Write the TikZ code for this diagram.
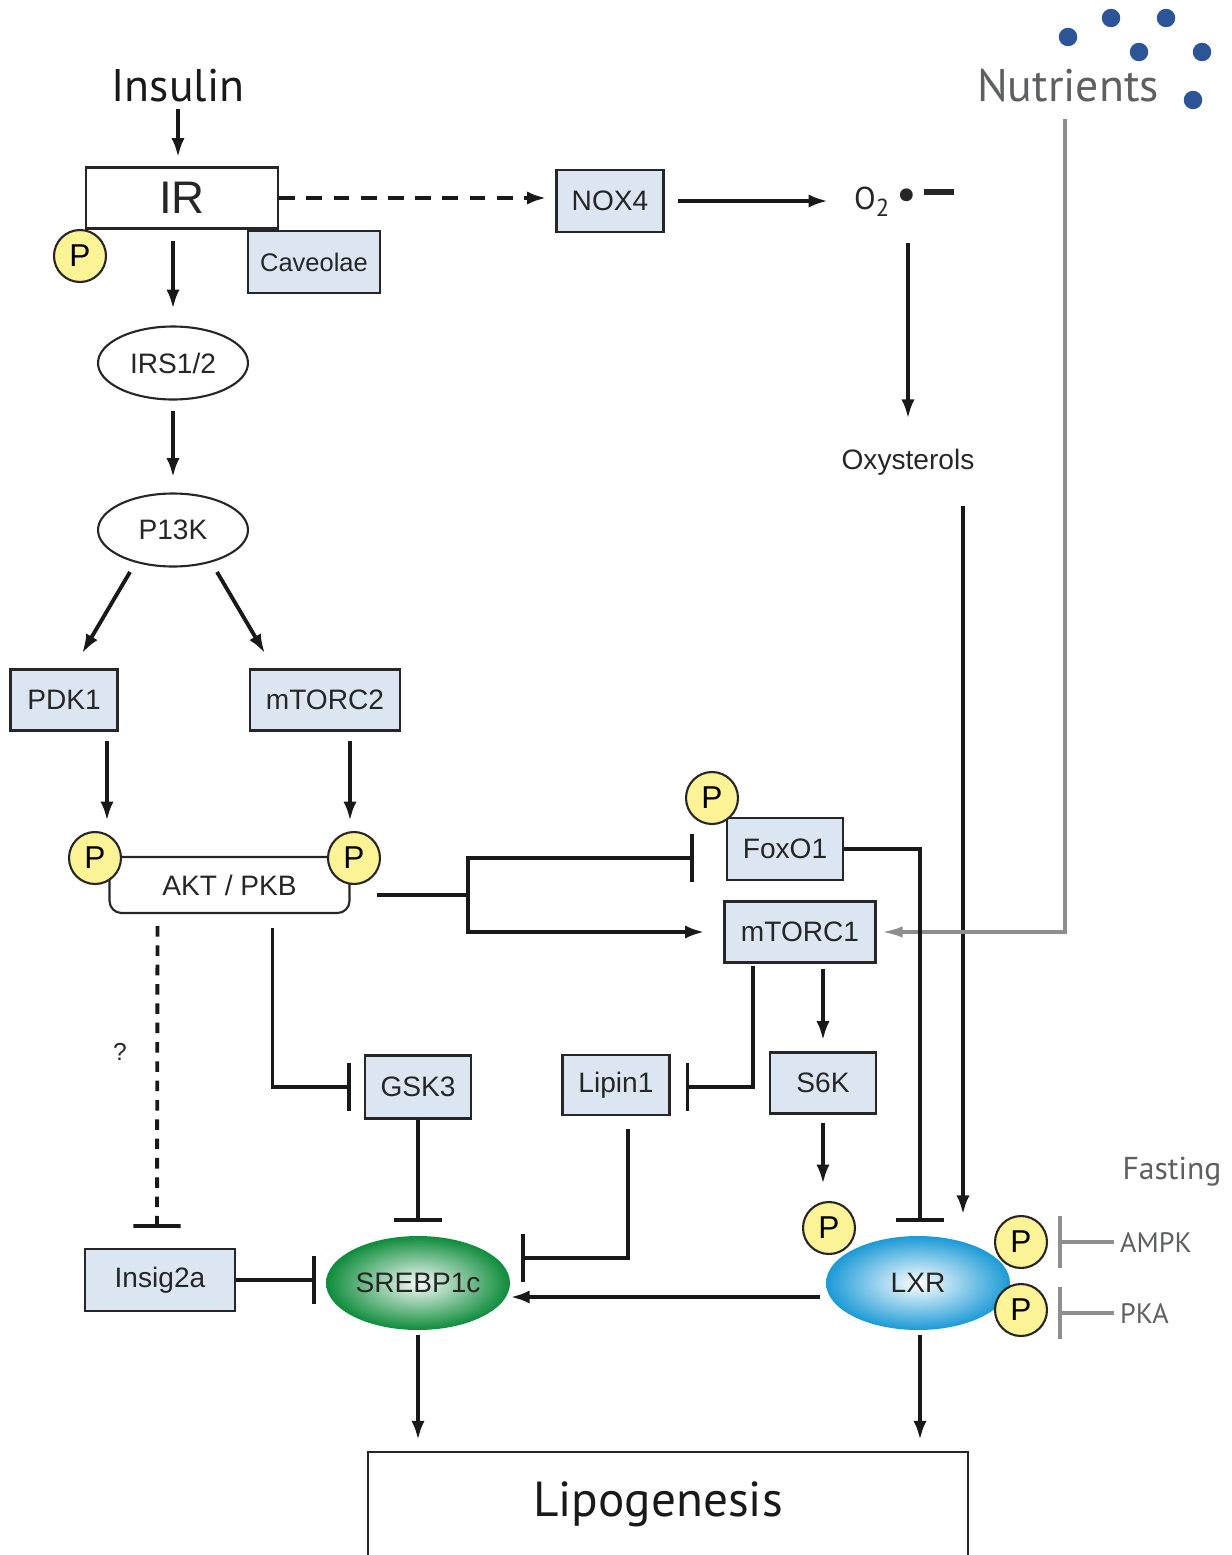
\documentclass[tikz,border=0pt]{standalone}
\usepackage{fontspec}
\setmainfont{Liberation Sans}
\newfontfamily\myriad{PT Sans}
\usepackage{tikz}
\usetikzlibrary{arrows.meta}
\usetikzlibrary{shapes.geometric}
\definecolor{boxblue}{HTML}{DCE6F2}
\definecolor{pyellow}{HTML}{FCF396}
\definecolor{dotblue}{HTML}{2B5597}
\definecolor{lxrblue}{HTML}{1B9AD6}
\definecolor{srebpgreen}{HTML}{0E8C3C}
\definecolor{labelgray}{HTML}{5E5F61}
\definecolor{linegray}{HTML}{8E8E8E}

\begin{document}
\begin{tikzpicture}[x=0.02cm,y=-0.02cm,
    txt/.style={font=\fontsize{16}{18}\selectfont,text=black!85},
    box/.style={txt,draw=black!85,line width=1.2pt,fill=boxblue,inner sep=0pt},
    oval/.style={txt,ellipse,draw=black!85,line width=1.2pt,fill=white,inner sep=0pt,
        minimum width=3cm,minimum height=1.46cm},
    blob/.style={txt,ellipse,inner sep=0pt,minimum width=3.68cm,minimum height=1.88cm},
    pcirc/.style={circle,draw=black!85,line width=1.2pt,fill=pyellow,inner sep=0pt,
        minimum size=1.04cm,font=\fontsize{18}{20}\selectfont},
    act/.style={line width=2.2pt,black!90,-{Latex[length=11pt,width=7.5pt]}},
    inh/.style={line width=2.2pt,black!90,-{Bar[width=27pt]}},
    gact/.style={line width=2pt,linegray,-{Latex[length=12pt,width=6.5pt]}},
    ginh/.style={line width=2pt,linegray,-{Bar[width=30pt]}}]
\useasboundingbox (0,0) rectangle (1231,1555);

%% top row
\node[font=\myriad\fontsize{26}{30}\selectfont,text=black!90] (insulin) at (178,86) {Insulin};
\node[box,fill=white,minimum width=3.84cm,minimum height=1.22cm,
    font=\fontsize{26}{30}\selectfont] (ir) at (182,198) {IR};
\node[box,minimum width=2.64cm,minimum height=1.24cm,
    font=\fontsize{14.5}{16}\selectfont] (cav) at (314,262) {Caveolae};
\node[box,minimum width=2.14cm,minimum height=1.24cm] (nox4) at (610,201) {NOX4};
\node[txt,font=\myriad\fontsize{18}{20}\selectfont,anchor=base west] (o2) at (848,209)
    {O\raisebox{-4.5pt}{\fontsize{14}{14}\selectfont 2}\hspace{4pt}\raisebox{-0.5pt}{\fontsize{26}{26}\selectfont\textbullet}\hspace{4pt}\rule[8.2pt]{17pt}{3pt}};
\node[txt] (oxy) at (908,462) {Oxysterols};
\node[font=\myriad\fontsize{26}{30}\selectfont,text=labelgray] (nutr) at (1068,86) {Nutrients};
\foreach \x/\y in {1068/37, 1111/18, 1166/18, 1139/52, 1202/52, 1193/100}
    \fill[dotblue] (\x,\y) circle (0.185cm);

%% insulin branch
\node[oval] (irs) at (173,363) {IRS1/2};
\node[oval] (p13k) at (173,530) {P13K};
\node[box,minimum width=2.14cm,minimum height=1.22cm] (pdk1) at (64,700) {PDK1};
\node[box,minimum width=3cm,minimum height=1.22cm] (mtorc2) at (325,700) {mTORC2};
\node[txt,draw=black!85,line width=1.2pt,rounded corners=0.24cm,
    minimum width=4.8cm,minimum height=1.12cm] (akt) at (229.5,885) {AKT / PKB};
\node[box,minimum width=2.32cm,minimum height=1.24cm] (foxo1) at (785,849) {FoxO1};
\node[box,minimum width=3.02cm,minimum height=1.22cm] (mtorc1) at (800,932) {mTORC1};
\node[box,minimum width=2.12cm,minimum height=1.26cm] (gsk3) at (418,1087) {GSK3};
\node[box,minimum width=2.14cm,minimum height=1.2cm] (lipin) at (616,1085) {Lipin1};
\node[box,minimum width=2.12cm,minimum height=1.22cm] (s6k) at (823,1083) {S6K};
\node[box,minimum width=3cm,minimum height=1.24cm] (insig) at (160,1280) {Insig2a};
\node[txt,font=\fontsize{14}{16}\selectfont] (qm) at (120,1052) {?};

%% transcription factors
\node[blob,inner color=srebpgreen!4,outer color=srebpgreen] (srebp) at (418,1283) {SREBP1c};
\node[blob,inner color=white,outer color=lxrblue] (lxr) at (918,1283) {LXR};

\node[minimum width=12cm,minimum height=2.06cm,text=black!90] (lipo) at (668,1504) {};
\node[font=\myriad\fontsize{28}{32}\selectfont,text=black!90] at ([xshift=-0.2cm]lipo.center) {Lipogenesis};
\draw[draw=black!85,line width=1.2pt] (lipo.south west) -- (lipo.north west)
    -- (lipo.north east) -- (lipo.south east);

%% fasting side
\node[font=\myriad\fontsize{18}{20}\selectfont,text=labelgray] (fast) at (1172,1172) {Fasting};
\node[font=\myriad\fontsize{16}{18}\selectfont,text=labelgray,anchor=west] (ampk) at (1114,1242) {AMPK};
\node[font=\myriad\fontsize{16}{18}\selectfont,text=labelgray,anchor=west] (pka) at (1114,1313) {PKA};

%% phosphorylation sites
\foreach \n/\x/\y in {pir/80/256, pakt1/95/858, pakt2/354/858, pfox/712/798,
    plxr/829/1228, pampk/1021/1242, ppka/1021/1310}
    \node[pcirc] (\n) at (\x,\y) {P};

%% connectors
\draw[act,shorten >=0.18cm] (insulin.south) -- (insulin.south |- ir.north);
\draw[act,dash pattern=on 9pt off 6.5pt,shorten >=0.18cm] (ir.east) -- (ir.east -| nox4.west);
\draw[act,shorten <=0.26cm,shorten >=0.4cm] (nox4.east) -- (nox4.east -| o2.west);
\draw[act,shorten <=0.4cm,shorten >=0.48cm] (o2.south -| oxy.north) -- (oxy.north);
\draw[act,shorten <=0.5cm,shorten >=0.42cm] ([xshift=1.1cm]oxy.south) -- ([xshift=1.1cm]oxy.south |- lxr.north);
\draw[gact,shorten <=0.2cm,shorten >=0.1cm] ([xshift=-0.06cm]nutr.south) |- (mtorc1.east);

\draw[act,shorten <=0.22cm,shorten >=0.33cm] (irs.north |- ir.south) -- (irs.north);
\draw[act,shorten <=0.2cm,shorten >=0.3cm] (irs.south) -- (p13k.north);
\draw[act] ([shift={(-43,42)}]p13k.center) -- ([shift={(18,-15)}]pdk1.north);
\draw[act] ([shift={(44,42)}]p13k.center) -- ([shift={(-60,-15)}]mtorc2.north);
\draw[act] ([shift={(43,9)}]pdk1.south) -- ([shift={(12,-10)}]pakt1.north);
\draw[act] ([shift={(25,9)}]mtorc2.south) -- ([shift={(-4,-10)}]pakt2.north);

\draw[inh,dash pattern=on 6pt off 5pt] ([shift={(-72,12)}]akt.south) -- ([shift={(-3,-20)}]insig.north);
\draw[inh,shorten >=0.26cm] ([shift={(43,14)}]akt.south) |- (gsk3.west);
\coordinate (fork) at (468,895);
\draw[line width=2.2pt,black!90] ([shift={(26,10)}]akt.east) -- (fork);
\draw[inh] (fork) |- ([shift={(-32,9)}]foxo1.west);
\draw[act] (fork) |- ([shift={(-19,0)}]mtorc1.west);

\draw[inh,shorten >=0.28cm] (gsk3.south) -- (srebp.north);
\draw[inh,shorten >=0.2cm] (insig.east) -- (insig.east -| srebp.west);
\draw[inh] ([shift={(12,13)}]lipin.south) |- ([shift={(11,-25)}]srebp.east);
\draw[inh] ([shift={(-47,2)}]mtorc1.south) |- ([shift={(15,2)}]lipin.east);
\draw[act] ([shift={(23,5)}]mtorc1.south) -- ([shift={(0,-11)}]s6k.north);
\draw[act,shorten <=0.16cm] (s6k.south) -- ([shift={(-6,-17)}]plxr.north);
\draw[inh] (foxo1.east) -| ([shift={(2,-14)}]lxr.north);
\draw[act] ([shift={(-6,14)}]lxr.west) -- ([shift={(0,14)}]srebp.east);

\draw[act,shorten <=0.1cm,shorten >=0.24cm] (srebp.south) -- (srebp.south |- lipo.north);
\draw[act,shorten <=0.1cm,shorten >=0.24cm] ([xshift=0.04cm]lxr.south) -- ([xshift=0.04cm]lxr.south |- lipo.north);

\draw[ginh,shorten >=0.2cm] (ampk.west) -- (ampk.west -| pampk.east);
\draw[ginh,shorten >=0.2cm] (pka.west) -- (pka.west -| ppka.east);
\end{tikzpicture}
\end{document}
